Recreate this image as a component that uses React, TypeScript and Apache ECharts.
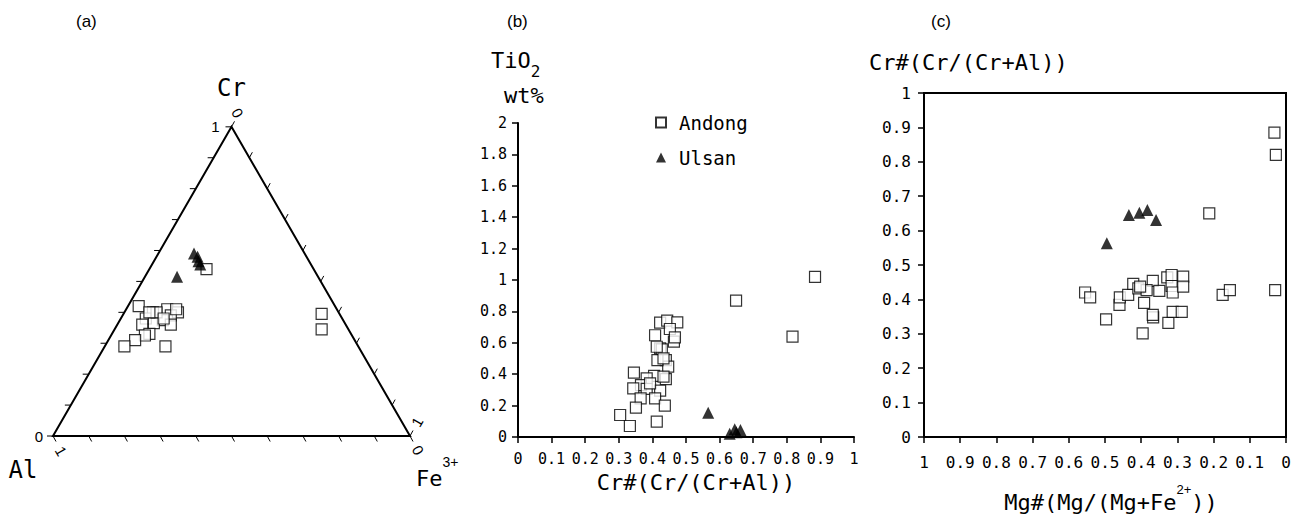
import React, { useEffect, useRef } from "react";
import * as echarts from "echarts";

// ---------- Panel (a): ternary Cr – Al – Fe3+ ; pairs are [Cr, Fe3+], Al = 1 - Cr - Fe3+
const andongTernary: [number, number][] = [
  [0.54, 0.16],
  [0.42, 0.03], [0.40, 0.08], [0.41, 0.115], [0.40, 0.15], [0.39, 0.135],
  [0.38, 0.07], [0.375, 0.12], [0.365, 0.10], [0.36, 0.07], [0.36, 0.15],
  [0.33, 0.105], [0.325, 0.095], [0.31, 0.075], [0.29, 0.055], [0.29, 0.17],
  [0.40, 0.09], [0.41, 0.14], [0.40, 0.07], [0.38, 0.12],
  [0.395, 0.555], [0.345, 0.58],
];
const ulsanTernary: [number, number][] = [
  [0.59, 0.10], [0.58, 0.115], [0.565, 0.125], [0.555, 0.135], [0.515, 0.09],
];
const ternaryTicks = [0, 0.1, 0.2, 0.3, 0.4, 0.5, 0.6, 0.7, 0.8, 0.9, 1];

// ---------- Panel (b): [Cr#, TiO2 wt%]
const andongTiO2: [number, number][] = [
  [0.423, 0.728], [0.444, 0.741], [0.474, 0.730], [0.452, 0.688], [0.408, 0.648],
  [0.464, 0.607], [0.467, 0.635], [0.423, 0.565], [0.428, 0.558], [0.440, 0.490],
  [0.447, 0.448], [0.415, 0.490], [0.405, 0.389], [0.440, 0.369], [0.345, 0.410],
  [0.383, 0.374], [0.366, 0.331], [0.343, 0.310], [0.383, 0.306], [0.423, 0.295],
  [0.365, 0.246], [0.408, 0.246], [0.351, 0.187], [0.437, 0.200], [0.304, 0.140],
  [0.333, 0.070], [0.413, 0.098], [0.433, 0.384], [0.393, 0.342], [0.413, 0.575],
  [0.433, 0.501], [0.649, 0.868], [0.817, 0.639], [0.884, 1.02],
];
const ulsanTiO2: [number, number][] = [
  [0.566, 0.155], [0.63, 0.02], [0.645, 0.05], [0.662, 0.045], [0.65, 0.03],
];

// ---------- Panel (c): [Mg#, Cr#]
const andongMgCr: [number, number][] = [
  [0.212, 0.650], [0.030, 0.427], [0.555, 0.420], [0.541, 0.406], [0.497, 0.342],
  [0.460, 0.384], [0.459, 0.406], [0.436, 0.413], [0.422, 0.445], [0.408, 0.432],
  [0.392, 0.390], [0.396, 0.301], [0.368, 0.454], [0.367, 0.348], [0.368, 0.355],
  [0.350, 0.425], [0.328, 0.464], [0.316, 0.471], [0.316, 0.439], [0.313, 0.420],
  [0.325, 0.332], [0.313, 0.364], [0.288, 0.364], [0.284, 0.466], [0.284, 0.437],
  [0.175, 0.413], [0.155, 0.427], [0.385, 0.427], [0.403, 0.437],
  [0.032, 0.885], [0.028, 0.820],
];
const ulsanMgCr: [number, number][] = [
  [0.495, 0.563], [0.434, 0.645], [0.405, 0.652], [0.383, 0.660], [0.359, 0.631],
];

const MONO = "'DejaVu Sans Mono', monospace";
const SANS = "'Liberation Sans', Arial, sans-serif";
const H = Math.sqrt(3) / 2;

const toXY = (p: [number, number]) => [p[1] + p[0] / 2, p[0] * H];

const squareStyle = { color: "#fff", borderColor: "#000", borderWidth: 1.2 };
const triStyle = { color: "#000" };

export default function App() {
  const ref = useRef<HTMLDivElement>(null);
  useEffect(() => {
    if (!ref.current) return;
    const chart = echarts.init(ref.current, null, { renderer: "svg" });

    const lerp = (a: number[], b: number[], t: number) => [a[0] + (b[0] - a[0]) * t, a[1] + (b[1] - a[1]) * t];

    const renderTernary = (_params: any, api: any) => {
      const A = api.coord([0, 0]);
      const F = api.coord([1, 0]);
      const C = api.coord([0.5, H]);
      const ln = (p: number[], q: number[], w = 1) => ({
        type: "line",
        shape: { x1: p[0], y1: p[1], x2: q[0], y2: q[1] },
        style: { stroke: "#000", lineWidth: w },
      });
      const children: any[] = [
        { type: "polygon", shape: { points: [A, F, C] }, style: { fill: "none", stroke: "#000", lineWidth: 2 } },
      ];
      ternaryTicks.forEach((t) => {
        const L = lerp(A, C, t);
        children.push(ln(L, [L[0] - 6, L[1]]));
        const B = lerp(A, F, t);
        children.push(ln(B, [B[0] + 3, B[1] + 5.5]));
        const R = lerp(F, C, t);
        children.push(ln(R, [R[0] + 3, R[1] - 5.5]));
      });
      const txt = (x: number, y: number, text: string, extra: any = {}, rotation = 0) => ({
        type: "text",
        x,
        y,
        rotation,
        style: { text, fill: "#000", fontFamily: SANS, fontSize: 15, align: "center", verticalAlign: "middle", ...extra },
      });
      children.push(txt(C[0] - 12, C[1], "1", { align: "right" }));
      children.push(txt(A[0] - 10, A[1], "0", { align: "right" }));
      children.push(txt(A[0] + 8, A[1] + 15, "1", {}, -Math.PI / 3));
      children.push(txt(F[0] + 8, F[1] + 14, "0", {}, -Math.PI / 3));
      children.push(txt(C[0] + 6, C[1] - 14, "0", {}, -Math.PI / 3));
      children.push(txt(F[0] + 7, F[1] - 14, "1", {}, Math.PI / 3));
      children.push(txt(C[0], C[1] - 39, "Cr", { fontFamily: MONO, fontSize: 24 }));
      children.push(txt(A[0] - 30, A[1] + 34, "Al", { fontFamily: MONO, fontSize: 24 }));
      children.push({
        type: "text",
        x: F[0] + 6,
        y: F[1] + 36,
        style: {
          text: "{a|Fe}{b|3+}",
          align: "left",
          verticalAlign: "middle",
          rich: {
            a: { fontFamily: MONO, fontSize: 22, lineHeight: 24, verticalAlign: "bottom", fill: "#000" },
            b: { fontFamily: SANS, fontSize: 14, lineHeight: 34, verticalAlign: "top", fill: "#000" },
          },
        },
      });
      return { type: "group", children };
    };

    const tickLabel = (size: number, margin: number) => ({
      color: "#000",
      fontFamily: MONO,
      fontSize: size,
      margin,
    });
    const axisCommon = {
      axisLine: { show: true, onZero: false, lineStyle: { color: "#000", width: 2 } },
      axisTick: { show: true, inside: false, length: 6, lineStyle: { color: "#000", width: 1.5 } },
      splitLine: { show: false },
    };

    const option: any = {
      animation: false,
      backgroundColor: "#fff",
      grid: [
        { left: 53, top: 79, width: 357, height: 357, show: false },
        { left: 518, top: 123, width: 336, height: 314, show: false },
        { left: 924, top: 93, width: 362, height: 344, show: true, borderColor: "#000", borderWidth: 2, backgroundColor: "transparent" },
      ],
      xAxis: [
        { gridIndex: 0, type: "value", min: 0, max: 1, show: false },
        { gridIndex: 1, type: "value", min: 0, max: 1, interval: 0.1, ...axisCommon, axisLabel: tickLabel(15, 14) },
        { gridIndex: 2, type: "value", min: 0, max: 1, interval: 0.1, inverse: true, ...axisCommon, axisLabel: tickLabel(16, 17) },
      ],
      yAxis: [
        { gridIndex: 0, type: "value", min: 0, max: 1, show: false },
        { gridIndex: 1, type: "value", min: 0, max: 2, interval: 0.2, ...axisCommon, axisLabel: tickLabel(15, 11) },
        { gridIndex: 2, type: "value", min: 0, max: 1, interval: 0.1, ...axisCommon, axisLabel: tickLabel(16, 13) },
      ],
      legend: {
        left: 650,
        top: 108,
        orient: "vertical",
        itemWidth: 10,
        itemHeight: 10,
        itemGap: 16,
        data: ["Andong", "Ulsan"],
        textStyle: { fontFamily: MONO, fontSize: 19, color: "#000", padding: [0, 0, 0, 8] },
        selectedMode: false,
      },
      series: [
        {
          type: "custom",
          xAxisIndex: 0,
          yAxisIndex: 0,
          data: [[0, 0]],
          renderItem: renderTernary,
          silent: true,
          clip: false,
          z: 1,
        },
        {
          name: "Andong",
          type: "scatter",
          xAxisIndex: 0,
          yAxisIndex: 0,
          symbol: "rect",
          symbolSize: 11,
          itemStyle: squareStyle,
          data: andongTernary.map(toXY),
          z: 3,
        },
        {
          name: "Ulsan",
          type: "scatter",
          xAxisIndex: 0,
          yAxisIndex: 0,
          symbol: "triangle",
          symbolSize: 12,
          itemStyle: triStyle,
          data: ulsanTernary.map(toXY),
          z: 3,
        },
        {
          name: "Andong",
          type: "scatter",
          xAxisIndex: 1,
          yAxisIndex: 1,
          symbol: "rect",
          symbolSize: 11,
          itemStyle: squareStyle,
          data: andongTiO2,
        },
        {
          name: "Ulsan",
          type: "scatter",
          xAxisIndex: 1,
          yAxisIndex: 1,
          symbol: "triangle",
          symbolSize: 12,
          itemStyle: triStyle,
          data: ulsanTiO2,
          clip: false,
        },
        {
          name: "Andong",
          type: "scatter",
          xAxisIndex: 2,
          yAxisIndex: 2,
          symbol: "rect",
          symbolSize: 11,
          itemStyle: squareStyle,
          data: andongMgCr,
        },
        {
          name: "Ulsan",
          type: "scatter",
          xAxisIndex: 2,
          yAxisIndex: 2,
          symbol: "triangle",
          symbolSize: 12,
          itemStyle: triStyle,
          data: ulsanMgCr,
        },
      ],
      graphic: [
        { type: "text", left: 76, top: 13, style: { text: "(a)", fontFamily: SANS, fontSize: 17, fill: "#000" } },
        { type: "text", left: 507, top: 13, style: { text: "(b)", fontFamily: SANS, fontSize: 17, fill: "#000" } },
        { type: "text", left: 931, top: 13, style: { text: "(c)", fontFamily: SANS, fontSize: 17, fill: "#000" } },
        {
          type: "text",
          x: 491,
          y: 64,
          style: {
            text: "{a|TiO}{b|2}",
            align: "left",
            verticalAlign: "middle",
            rich: {
              a: { fontFamily: MONO, fontSize: 22, lineHeight: 26, verticalAlign: "top", fill: "#000" },
              b: { fontFamily: MONO, fontSize: 16, lineHeight: 30, verticalAlign: "bottom", fill: "#000" },
            },
          },
        },
        {
          type: "text",
          x: 504,
          y: 95,
          style: { text: "wt%", fontFamily: MONO, fontSize: 22, fill: "#000", align: "left", verticalAlign: "middle" },
        },
        {
          type: "text",
          x: 696,
          y: 482,
          style: { text: "Cr#(Cr/(Cr+Al))", fontFamily: MONO, fontSize: 22, fill: "#000", align: "center", verticalAlign: "middle" },
        },
        {
          type: "text",
          x: 869,
          y: 62,
          style: { text: "Cr#(Cr/(Cr+Al))", fontFamily: MONO, fontSize: 22, fill: "#000", align: "left", verticalAlign: "middle" },
        },
        {
          type: "text",
          x: 1111,
          y: 498,
          style: {
            text: "{a|Mg#(Mg/(Mg+Fe}{b|2+}{a|))}",
            align: "center",
            verticalAlign: "middle",
            rich: {
              a: { fontFamily: MONO, fontSize: 22, lineHeight: 26, verticalAlign: "bottom", fill: "#000" },
              b: { fontFamily: SANS, fontSize: 13, lineHeight: 30, verticalAlign: "top", fill: "#000" },
            },
          },
        },
      ],
    };

    chart.setOption(option);
    return () => chart.dispose();
  }, []);

  return (
    <div
      ref={ref}
      style={{ position: "fixed", left: 0, top: 0, width: 1298, height: 519, background: "#fff" }}
    />
  );
}
